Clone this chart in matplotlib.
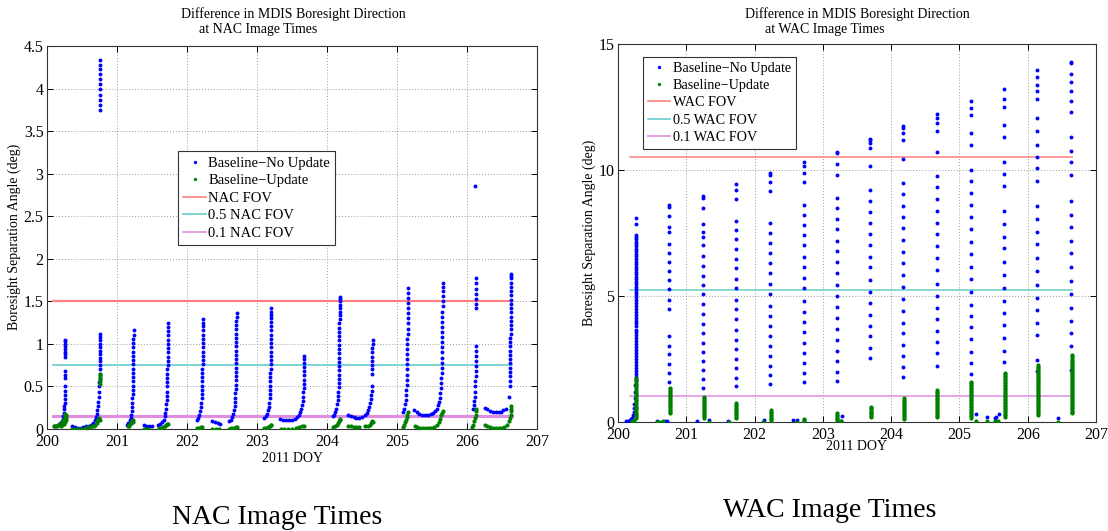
import matplotlib
matplotlib.use('Agg')
import matplotlib.pyplot as plt
from matplotlib.lines import Line2D

plt.rcParams['font.family'] = ['Liberation Serif', 'DejaVu Serif']

# ---- NAC panel data (day of year, separation angle in deg) ----
nac_no_update = [
    # ~200.25
    (200.10, .03), (200.13, .04), (200.16, .05), (200.19, .07), (200.21, .09), (200.225, .12),
    (200.235, .15), (200.24, .19), (200.245, .23), (200.245, .27), (200.25, .31), (200.25, .35),
    (200.25, .40), (200.25, .45), (200.252, .50), (200.254, .60), (200.255, .64), (200.255, .68),
    (200.258, .85), (200.258, .88), (200.26, .91), (200.26, .94), (200.26, .97), (200.262, 1.00),
    (200.262, 1.03), (200.263, 1.05),
    (200.36, .03), (200.40, .02), (200.44, .015), (200.48, .015), (200.52, .02),
    # ~200.75
    (200.56, .03), (200.60, .04), (200.63, .05), (200.66, .07), (200.68, .10), (200.70, .14),
    (200.71, .18), (200.72, .22), (200.73, .27), (200.735, .32), (200.74, .38), (200.74, .44),
    (200.745, .50), (200.745, .55), (200.75, .60), (200.75, .65), (200.75, .70), (200.75, .75),
    (200.75, .80), (200.752, .84), (200.752, .88), (200.752, .92), (200.754, .96), (200.755, 1.00),
    (200.755, 1.04), (200.756, 1.08), (200.757, 1.12),
    (200.76, 3.75), (200.76, 3.81), (200.76, 3.87), (200.76, 3.93), (200.76, 3.99), (200.76, 4.05),
    (200.76, 4.11), (200.76, 4.17), (200.76, 4.23), (200.76, 4.28), (200.76, 4.33),
    # ~201.23
    (201.14, .05), (201.16, .07), (201.18, .10), (201.195, .13), (201.205, .17), (201.21, .21),
    (201.215, .26), (201.22, .31), (201.22, .36), (201.225, .41), (201.225, .46), (201.228, .51),
    (201.228, .56), (201.23, .61), (201.23, .66), (201.23, .71), (201.232, .76), (201.232, .81),
    (201.232, .86), (201.234, .91), (201.234, .96), (201.235, 1.01), (201.235, 1.06), (201.236, 1.11),
    (201.236, 1.16),
    (201.38, .05), (201.42, .04), (201.46, .04), (201.50, .04),
    # ~201.72
    (201.59, .05), (201.62, .06), (201.645, .08), (201.665, .11), (201.68, .15), (201.69, .19),
    (201.70, .24), (201.705, .29), (201.71, .34), (201.712, .39), (201.715, .44), (201.717, .50),
    (201.718, .55), (201.72, .60), (201.72, .65), (201.72, .70), (201.722, .75), (201.722, .80),
    (201.724, .85), (201.724, .90), (201.725, .95), (201.725, 1.00), (201.726, 1.05), (201.726, 1.10),
    (201.727, 1.15), (201.728, 1.20), (201.728, 1.25),
    # ~202.22
    (202.14, .10), (202.16, .13), (202.175, .17), (202.19, .21), (202.20, .26), (202.205, .31),
    (202.21, .36), (202.212, .41), (202.215, .46), (202.217, .51), (202.218, .56), (202.22, .61),
    (202.22, .66), (202.22, .71), (202.222, .76), (202.222, .81), (202.223, .86), (202.224, .91),
    (202.224, .96), (202.225, 1.01), (202.225, 1.06), (202.226, 1.11), (202.226, 1.16),
    (202.227, 1.21), (202.227, 1.25), (202.228, 1.29),
    (202.36, .09), (202.40, .08), (202.44, .07), (202.47, .06),
    # ~202.70
    (202.60, .09), (202.625, .11), (202.645, .14), (202.66, .18), (202.67, .22), (202.68, .27),
    (202.685, .32), (202.69, .37), (202.692, .42), (202.695, .47), (202.697, .52), (202.698, .57),
    (202.70, .62), (202.70, .67), (202.70, .72), (202.702, .77), (202.702, .82), (202.703, .87),
    (202.704, .92), (202.704, .97), (202.705, 1.02), (202.705, 1.07), (202.706, 1.12),
    (202.706, 1.17), (202.707, 1.22), (202.707, 1.27), (202.708, 1.32), (202.708, 1.36),
    # ~203.195
    (203.10, .13), (203.125, .15), (203.145, .18), (203.16, .22), (203.17, .26), (203.175, .31),
    (203.18, .36), (203.185, .41), (203.187, .46), (203.19, .51), (203.19, .56), (203.192, .61),
    (203.192, .66), (203.194, .71), (203.194, .76), (203.195, .81), (203.195, .86), (203.196, .91),
    (203.196, .96), (203.197, 1.01), (203.197, 1.06), (203.198, 1.11), (203.198, 1.16),
    (203.199, 1.21), (203.199, 1.26), (203.20, 1.30), (203.20, 1.34), (203.20, 1.38), (203.20, 1.42),
    (203.33, .12), (203.37, .11), (203.41, .10), (203.45, .10),
    # ~203.67
    (203.50, .11), (203.54, .12), (203.57, .14), (203.60, .17), (203.62, .20), (203.635, .24),
    (203.645, .28), (203.652, .33), (203.658, .38), (203.662, .43), (203.665, .48), (203.667, .53),
    (203.669, .58), (203.67, .63), (203.672, .68), (203.673, .73), (203.674, .78), (203.675, .82),
    (203.676, .86),
    # ~204.175
    (204.08, .15), (204.10, .17), (204.12, .20), (204.135, .24), (204.145, .29), (204.152, .34),
    (204.158, .39), (204.162, .44), (204.165, .49), (204.168, .54), (204.17, .59), (204.17, .64),
    (204.172, .69), (204.172, .74), (204.173, .79), (204.174, .84), (204.175, .89), (204.175, .94),
    (204.176, .99), (204.176, 1.04), (204.177, 1.09), (204.177, 1.14), (204.178, 1.19),
    (204.178, 1.24), (204.179, 1.29), (204.179, 1.34), (204.18, 1.38), (204.18, 1.42),
    (204.18, 1.46), (204.18, 1.50), (204.18, 1.53), (204.18, 1.55),
    (204.30, .17), (204.34, .15), (204.38, .14), (204.42, .13), (204.46, .13), (204.50, .14),
    # ~204.65
    (204.54, .17), (204.565, .19), (204.585, .22), (204.60, .26), (204.612, .30), (204.622, .35),
    (204.63, .40), (204.636, .45), (204.64, .50), (204.645, .65), (204.645, .70), (204.646, .75),
    (204.647, .80), (204.648, .85), (204.648, .90), (204.649, .95), (204.65, 1.00), (204.65, 1.04),
    # ~205.15
    (205.08, .20), (205.10, .24), (205.115, .29), (205.125, .34), (205.13, .40), (205.135, .46),
    (205.138, .52), (205.14, .58), (205.142, .64), (205.143, .70), (205.144, .76), (205.145, .82),
    (205.146, .88), (205.147, .94), (205.148, 1.00), (205.149, 1.06), (205.15, 1.12), (205.15, 1.18),
    (205.151, 1.24), (205.151, 1.30), (205.152, 1.36), (205.152, 1.42), (205.153, 1.48),
    (205.153, 1.54), (205.154, 1.60), (205.154, 1.66),
    (205.24, .22), (205.28, .20), (205.32, .18), (205.36, .17), (205.40, .165), (205.44, .165),
    (205.48, .175), (205.51, .19), (205.54, .21), (205.565, .24),
    # ~205.645
    (205.585, .28), (205.60, .32), (205.612, .37), (205.62, .42), (205.626, .48), (205.63, .54),
    (205.633, .60), (205.636, .66), (205.638, .72), (205.64, .78), (205.641, .84), (205.642, .90),
    (205.643, .96), (205.644, 1.02), (205.645, 1.08), (205.646, 1.14), (205.647, 1.20),
    (205.648, 1.26), (205.648, 1.32), (205.649, 1.38), (205.65, 1.44), (205.65, 1.50),
    (205.651, 1.56), (205.651, 1.62), (205.652, 1.67), (205.652, 1.72),
    # ~206.13
    (206.08, .24), (206.095, .28), (206.105, .33), (206.112, .38), (206.116, .44), (206.119, .50),
    (206.121, .56), (206.123, .62), (206.124, .68), (206.125, .74), (206.126, .80), (206.127, .86),
    (206.128, .92), (206.128, .97), (206.13, 1.42), (206.13, 1.47), (206.131, 1.53), (206.131, 1.59),
    (206.132, 1.65), (206.132, 1.71), (206.133, 1.77), (206.12, 2.86),
    (206.25, .25), (206.29, .23), (206.33, .21), (206.37, .20), (206.41, .195), (206.45, .195),
    (206.49, .20), (206.52, .22), (206.55, .24),
    # ~206.62
    (206.60, .38), (206.61, .50), (206.612, .56), (206.614, .62), (206.615, .67), (206.616, .72),
    (206.617, .77), (206.618, .82), (206.619, .87), (206.62, .92), (206.62, .97), (206.621, 1.02),
    (206.621, 1.07), (206.622, 1.12), (206.622, 1.17), (206.623, 1.22), (206.623, 1.27),
    (206.624, 1.32), (206.624, 1.37), (206.625, 1.42), (206.625, 1.47), (206.626, 1.52),
    (206.626, 1.57), (206.627, 1.62), (206.627, 1.67), (206.628, 1.72), (206.628, 1.77),
    (206.629, 1.80), (206.629, 1.82),
]

nac_update = [
    (200.10, .03), (200.12, .035), (200.14, .04), (200.16, .05), (200.18, .055), (200.20, .06),
    (200.21, .07), (200.22, .08), (200.23, .09), (200.24, .10), (200.245, .12), (200.25, .14),
    (200.255, .16), (200.26, .18), (200.265, .17), (200.265, .15), (200.27, .13), (200.27, .11),
    (200.20, .04), (200.22, .05), (200.24, .06), (200.26, .08),
    (200.36, .005), (200.40, .005), (200.44, .005), (200.48, .005), (200.52, .005),
    (200.57, .02), (200.61, .025), (200.64, .03), (200.67, .04), (200.69, .05), (200.71, .07),
    (200.72, .09), (200.73, .11), (200.74, .13), (200.745, .12), (200.75, .10),
    (200.75, .53), (200.752, .56), (200.753, .59), (200.754, .62), (200.755, .65),
    (201.15, .03), (201.17, .04), (201.19, .06), (201.205, .07), (201.215, .09), (201.225, .10),
    (201.23, .08), (201.38, .005), (201.42, .005), (201.46, .005),
    (201.60, .01), (201.63, .015), (201.66, .025), (201.68, .035), (201.70, .045), (201.715, .055),
    (201.725, .06),
    (202.14, .01), (202.17, .015), (202.20, .02), (202.22, .025), (202.36, .005), (202.41, .005),
    (202.46, .005),
    (202.60, .005), (202.63, .008), (202.66, .01), (202.685, .015), (202.70, .02), (202.71, .02),
    (203.10, .01), (203.13, .015), (203.16, .025), (203.18, .035), (203.195, .045), (203.20, .05),
    (203.34, .005), (203.39, .005), (203.44, .005),
    (203.50, .005), (203.55, .01), (203.60, .02), (203.64, .03), (203.67, .04),
    (204.08, .02), (204.11, .03), (204.14, .05), (204.16, .07), (204.17, .09), (204.18, .11),
    (204.18, .12),
    (204.30, .04), (204.34, .03), (204.38, .02), (204.42, .02), (204.46, .025),
    (204.54, .03), (204.58, .04), (204.61, .05), (204.63, .07), (204.645, .09), (204.65, .08),
    (205.08, .02), (205.10, .05), (205.115, .08), (205.13, .11), (205.14, .14), (205.148, .17),
    (205.152, .20),
    (205.25, .04), (205.29, .02), (205.33, .01), (205.37, .01), (205.41, .01), (205.45, .01),
    (205.49, .015), (205.53, .025), (205.57, .05), (205.60, .08), (205.62, .12), (205.635, .16),
    (205.645, .19), (205.65, .21),
    (206.07, .02), (206.09, .05), (206.105, .09), (206.115, .13), (206.125, .17), (206.13, .21),
    (206.135, .24),
    (206.25, .05), (206.29, .03), (206.33, .02), (206.37, .015), (206.41, .01), (206.45, .01),
    (206.49, .015), (206.53, .025), (206.57, .05), (206.60, .09), (206.615, .13), (206.622, .17),
    (206.626, .21), (206.628, .24), (206.63, .27),
]

nac_fov_levels = [1.5, 0.75, 0.15]
nac_fov_span = (200.08, 206.64)
nac_fov_labels = ['NAC FOV', '0.5 NAC FOV', '0.1 NAC FOV']
nac_yticks = [0, 0.5, 1, 1.5, 2, 2.5, 3, 3.5, 4, 4.5]
nac_yticklabels = ['0', '0.5', '1', '1.5', '2', '2.5', '3', '3.5', '4', '4.5']

# ---- WAC panel data ----
wac_days = [200.264, 200.752, 201.25, 201.73, 202.23, 202.72, 203.20,
            203.695, 204.18, 204.67, 205.17, 205.66, 206.14, 206.64]

wac_no_update_cols = [
    [8.08, 7.85, 7.42, 7.33, 7.25, 7.16, 7.06, 6.97, 6.86, 6.77, 6.66, 6.57, 6.46, 6.36, 6.27,
     6.16, 6.07, 5.96, 5.86, 5.77, 5.66, 5.56, 5.47, 5.36, 5.26, 5.16, 5.06, 4.95, 4.84, 4.72,
     4.61, 4.49, 4.37, 4.26, 4.14, 4.02, 3.91, 3.79, 3.67, 3.56, 3.44, 3.32, 3.21, 3.09, 2.97,
     2.86, 2.74, 2.62, 2.51, 2.39, 2.27, 2.16, 2.04, 1.92, 1.80, 1.68],
    [8.61, 8.55, 8.17, 7.75, 7.55, 7.06, 6.72, 6.36, 6.00, 5.63, 5.26, 4.86, 4.47, 3.42, 3.03,
     2.70, 2.30, 1.96, 1.60],
    [8.97, 8.88, 8.50, 7.86, 7.52, 7.36, 7.03, 6.60, 6.20, 5.81, 5.44, 5.07, 4.67, 4.27, 3.89,
     3.52, 3.15, 2.76, 2.42, 2.06, 1.70, 1.33],
    [9.43, 9.20, 8.84, 7.99, 7.62, 7.25, 6.88, 6.48, 6.10, 5.69, 5.30, 4.84, 4.47, 4.07, 3.65,
     3.25, 2.88, 2.50, 2.13, 1.75, 1.42],
    [9.87, 9.80, 9.54, 9.16, 7.91, 7.51, 7.11, 6.72, 6.29, 5.90, 5.47, 5.08, 4.60, 4.22, 3.82,
     3.42, 3.01, 2.62, 2.23, 1.86, 1.49],
    [10.33, 10.16, 9.90, 9.53, 8.61, 8.22, 7.80, 7.41, 7.01, 6.56, 6.16, 5.71, 5.30, 4.81, 4.38,
     3.95, 3.56, 3.15, 2.75, 2.33, 1.96, 1.60],
    [10.73, 10.66, 10.22, 9.80, 8.87, 8.48, 8.04, 7.64, 7.20, 6.78, 6.35, 5.90, 5.44, 5.00, 4.55,
     4.11, 3.71, 3.25, 2.81, 2.42, 1.99, 1.64],
    [11.25, 11.19, 11.08, 10.86, 10.16, 9.21, 8.77, 8.35, 7.91, 7.46, 7.02, 6.56, 6.14, 5.63,
     5.17, 4.71, 4.25, 3.81, 3.43, 2.92, 2.53],
    [11.75, 11.66, 11.48, 11.19, 10.44, 9.47, 9.03, 8.57, 8.12, 7.70, 7.22, 6.76, 6.30, 5.83,
     5.34, 4.88, 4.42, 3.94, 3.52, 3.06, 2.62, 2.20, 1.77],
    [12.21, 12.05, 11.88, 11.55, 10.73, 9.76, 9.32, 8.84, 8.39, 7.91, 7.45, 6.98, 6.52, 6.03,
     5.49, 5.01, 4.54, 4.07, 3.61, 3.16, 2.72, 2.23],
    [12.75, 12.45, 12.19, 11.48, 10.99, 10.00, 9.58, 9.08, 8.61, 8.15, 7.65, 7.16, 6.67, 6.16,
     5.66, 5.16, 4.64, 4.20, 3.78, 3.28, 2.79, 2.35, 1.90],
    [13.22, 12.82, 12.50, 11.77, 11.29, 10.33, 9.84, 9.36, 8.37, 7.84, 7.35, 6.89, 6.36, 5.83,
     5.33, 4.80, 4.31, 3.85, 3.32, 2.83, 2.39],
    [13.97, 13.68, 13.37, 13.15, 12.83, 12.05, 11.55, 10.99, 10.53, 10.07, 9.56, 8.57, 8.04,
     7.55, 7.06, 6.49, 5.99, 5.43, 4.93, 4.44, 3.94, 3.45, 2.46, 2.02],
    [14.30, 14.24, 13.80, 13.48, 13.15, 12.75, 12.29, 11.30, 10.77, 10.30, 9.80, 8.77, 8.22,
     7.73, 7.20, 6.69, 6.16, 5.60, 5.08, 4.51, 4.02, 3.52, 3.01, 2.06],
]

wac_no_update_low = [
    (200.255, 1.45), (200.25, 1.20), (200.245, .95), (200.24, .72), (200.235, .55), (200.23, .40),
    (200.22, .27), (200.21, .17), (200.19, .10), (200.17, .06), (200.14, .03), (200.11, .02),
    (200.57, .03), (200.69, .04), (200.72, .05), (201.15, .05), (201.33, .06), (201.61, .04),
    (202.14, .06), (202.57, .07), (202.62, .08), (203.27, .05), (203.28, .22), (205.25, .30),
    (205.40, .18), (205.52, .17), (205.54, .19), (205.58, .30), (206.45, .14),
]

wac_update_cols = [
    [1.73, 1.66, 1.59, 1.52, 1.45, 1.38, 1.31, 1.24, 1.17, 1.10, 1.03, 0.96, 0.89, 0.82, 0.75,
     0.68, 0.61, 0.54, 0.47, 0.40, 0.33, 0.26, 0.20, 0.14],
    [1.36, 1.30, 1.24, 1.18, 1.12, 1.06, 1.00, 0.94, 0.88, 0.82, 0.76, 0.70, 0.64, 0.58, 0.52,
     0.46, 0.40, 0.35],
    [1.00, 0.94, 0.88, 0.82, 0.76, 0.70, 0.64, 0.58, 0.52, 0.46, 0.40, 0.34, 0.28, 0.22, 0.15],
    [0.74, 0.68, 0.62, 0.56, 0.50, 0.44, 0.38, 0.32, 0.26, 0.20, 0.14],
    [0.47, 0.41, 0.35, 0.29, 0.23, 0.17, 0.12, 0.08],
    [0.10, 0.06, 0.03],
    [0.34, 0.28, 0.22, 0.16, 0.11, 0.08],
    [0.60, 0.55, 0.50, 0.45, 0.40, 0.35, 0.30, 0.25, 0.21],
    [0.95, 0.89, 0.83, 0.77, 0.71, 0.65, 0.59, 0.53, 0.47, 0.41, 0.35, 0.29, 0.23, 0.17, 0.10],
    [1.27, 1.21, 1.15, 1.09, 1.03, 0.97, 0.91, 0.85, 0.79, 0.73, 0.67, 0.61, 0.55, 0.49, 0.43,
     0.37, 0.31, 0.25, 0.20],
    [1.60, 1.54, 1.48, 1.42, 1.36, 1.30, 1.24, 1.18, 1.12, 1.06, 1.00, 0.94, 0.88, 0.82, 0.76,
     0.70, 0.64, 0.58, 0.52, 0.46, 0.40, 0.34, 0.28, 0.22, 0.15],
    [1.95, 1.89, 1.83, 1.77, 1.71, 1.65, 1.59, 1.53, 1.47, 1.41, 1.35, 1.29, 1.23, 1.17, 1.11,
     1.05, 0.99, 0.93, 0.87, 0.81, 0.75, 0.69, 0.63, 0.57, 0.51, 0.45, 0.39, 0.33, 0.26, 0.20],
    [2.26, 2.20, 2.14, 2.08, 2.02, 1.96, 1.90, 1.84, 1.78, 1.72, 1.66, 1.60, 1.54, 1.48, 1.42,
     1.36, 1.30, 1.24, 1.18, 1.12, 1.06, 1.00, 0.94, 0.88, 0.82, 0.76, 0.70, 0.64, 0.58, 0.52,
     0.46, 0.40, 0.34, 0.28],
    [2.66, 2.60, 2.54, 2.48, 2.42, 2.36, 2.30, 2.24, 2.18, 2.12, 2.06, 2.00, 1.94, 1.88, 1.82,
     1.76, 1.70, 1.64, 1.58, 1.52, 1.46, 1.40, 1.34, 1.28, 1.22, 1.16, 1.10, 1.04, 0.98, 0.92,
     0.86, 0.80, 0.74, 0.68, 0.62, 0.56, 0.50, 0.44, 0.38, 0.34],
]

wac_update_low = [
    (200.20, .02), (200.22, .03), (200.24, .05), (200.57, .01), (200.62, .01), (200.66, .02),
    (201.33, .01), (201.62, .01), (202.12, .01), (202.60, .01), (203.27, .02), (205.25, .05),
    (205.40, .02), (205.52, .02), (205.56, .03), (206.45, .01),
]

wac_fov_levels = [10.5, 5.25, 1.05]
wac_fov_span = (200.18, 206.65)
wac_fov_labels = ['WAC FOV', '0.5 WAC FOV', '0.1 WAC FOV']
wac_yticks = [0, 5, 10, 15]
wac_yticklabels = ['0', '5', '10', '15']

day_ticks = [200, 201, 202, 203, 204, 205, 206, 207]
fov_colors = ['#ff8080', '#66cccc', '#e08ce0']
blue = '#0000ff'
green = '#008000'

W, H = 1108, 531
fig = plt.figure(figsize=(W / 100, H / 100), dpi=100)


def box(l, t, r, b):
    # pixel box -> figure fraction rect
    return [l / W, 1 - b / H, (r - l) / W, (b - t) / H]


def style(ax, ylim, yticks, yticklabels):
    ax.set_xlim(200, 207)
    ax.set_ylim(*ylim)
    ax.set_xticks(day_ticks)
    ax.set_xticklabels([str(d) for d in day_ticks])
    ax.set_yticks(yticks)
    ax.set_yticklabels(yticklabels)
    ax.grid(True, color='#9a9a9a', linestyle=(0, (1, 2)), linewidth=0.7)
    ax.set_axisbelow(True)
    ax.tick_params(direction='in', top=True, right=True, length=4, width=0.7,
                   labelsize=11.5, pad=2.5)
    ax.tick_params(axis='x', pad=3.5)
    for s in ax.spines.values():
        s.set_linewidth(0.8)
        s.set_color('#333333')


def legend(ax, labels, anchor, size):
    handles = [Line2D([], [], ls='none', marker='o', ms=2.4, mfc=blue, mec='none'),
               Line2D([], [], ls='none', marker='o', ms=2.4, mfc=green, mec='none')]
    handles += [Line2D([], [], color=c, lw=1.2) for c in fov_colors]
    names = ['Baseline\u2212No Update', 'Baseline\u2212Update'] + labels
    leg = ax.legend(handles, names, loc='upper left', bbox_to_anchor=anchor,
                    fontsize=size, frameon=True, fancybox=False, framealpha=1,
                    edgecolor='#333333', borderpad=0.35, labelspacing=0.3,
                    handlelength=1.6, handletextpad=0.15, borderaxespad=0)
    leg.get_frame().set_linewidth(0.8)


# ---- NAC ----
ax1 = fig.add_axes(box(47, 46, 537, 429))
style(ax1, (0, 4.5), nac_yticks, nac_yticklabels)
for lvl, c, lw in zip(nac_fov_levels, fov_colors, [1.6, 1.2, 2.2]):
    ax1.plot(nac_fov_span, [lvl, lvl], color=c, lw=lw, zorder=2)
ax1.plot([p[0] for p in nac_no_update], [p[1] for p in nac_no_update], ls='none',
         marker='o', ms=2.8, mfc=blue, mec='none', zorder=3)
ax1.plot([p[0] for p in nac_update], [p[1] for p in nac_update], ls='none',
         marker='o', ms=3.0, mfc=green, mec='none', zorder=3)
legend(ax1, nac_fov_labels, (0.267, 0.725), 10.5)

# ---- WAC ----
ax2 = fig.add_axes(box(618, 44, 1096, 422))
style(ax2, (0, 15), wac_yticks, wac_yticklabels)
for lvl, c in zip(wac_fov_levels, fov_colors):
    ax2.plot(wac_fov_span, [lvl, lvl], color=c, lw=1.1, zorder=2)
bx, by = [], []
for d, col in zip(wac_days, wac_no_update_cols):
    bx += [d] * len(col)
    by += col
bx += [p[0] for p in wac_no_update_low]
by += [p[1] for p in wac_no_update_low]
gx, gy = [], []
for d, col in zip(wac_days, wac_update_cols):
    gx += [d + 0.004] * len(col)
    gy += col
gx += [p[0] for p in wac_update_low]
gy += [p[1] for p in wac_update_low]
ax2.plot(bx, by, ls='none', marker='o', ms=2.8, mfc=blue, mec='none', zorder=3)
ax2.plot(gx, gy, ls='none', marker='o', ms=3.0, mfc=green, mec='none', zorder=3)
legend(ax2, wac_fov_labels, (0.052, 0.966), 10.2)

# ---- text ----
title_kw = dict(fontsize=10, va='center')
fig.text(293 / W, 1 - 14 / H, 'Difference in MDIS Boresight Direction', ha='center', **title_kw)
fig.text(199 / W, 1 - 30 / H, 'at NAC Image Times', ha='left', **title_kw)
fig.text(857 / W, 1 - 14 / H, 'Difference in MDIS Boresight Direction', ha='center', **title_kw)
fig.text(765 / W, 1 - 30 / H, 'at WAC Image Times', ha='left', **title_kw)

fig.text(292 / W, 1 - 458 / H, '2011 DOY', ha='center', va='center', fontsize=10)
fig.text(857 / W, 1 - 447 / H, '2011 DOY', ha='center', va='center', fontsize=10)
fig.text(14 / W, 1 - 237 / H, 'Boresight Separation Angle (deg)', rotation=90,
         ha='center', va='center', fontsize=10)
fig.text(589 / W, 1 - 233 / H, 'Boresight Separation Angle (deg)', rotation=90,
         ha='center', va='center', fontsize=10)

fig.text(277 / W, 1 - 524 / H, 'NAC Image Times', ha='center', va='baseline', fontsize=20)
fig.text(830 / W, 1 - 517 / H, 'WAC Image Times', ha='center', va='baseline', fontsize=20)

fig.savefig('out.png', dpi=100)
